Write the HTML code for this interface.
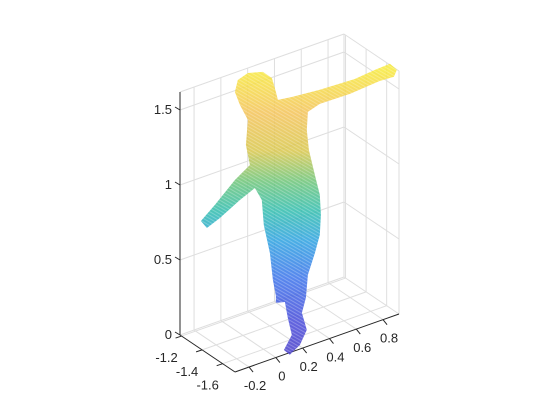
<!DOCTYPE html>
<html><head><meta charset="utf-8"><style>
html,body{margin:0;padding:0;background:#fff;}
svg{display:block;font-family:"Liberation Sans",Arial,sans-serif;}
</style></head><body>
<svg id="chart" width="560" height="420" viewBox="0 0 560 420" xmlns="http://www.w3.org/2000/svg">
<defs>
<linearGradient id="parula" gradientUnits="userSpaceOnUse" x1="0" x2="0"></linearGradient>
<pattern id="dots" width="3" height="3" patternUnits="userSpaceOnUse" patternTransform="rotate(30)">
<rect width="3" height="1" fill="#fff" opacity="0.25"/>
</pattern>
</defs>
<g id="grid"></g>
<g id="axes"></g>
<g id="cloud"></g>
</svg>
<script>
const xTicks = [-0.2, 0, 0.2, 0.4, 0.6, 0.8];
const yTicks = [-1.6, -1.4, -1.2];
const zTicks = [0, 0.5, 1, 1.5];
const xTickLabels = ["-0.2", "0", "0.2", "0.4", "0.6", "0.8"];
const yTickLabels = ["-1.6", "-1.4", "-1.2"];
const zTickLabels = ["0", "0.5", "1", "1.5"];
const xLim = [-0.305, 0.919];
const yLim = [-1.72, -1.185];
const zLim = [0, 1.62];
// silhouette of point cloud (data coords, in plane y = personY)
const personY = -1.444;
const outlineX = [-0.094,-0.072,0.003,0.115,0.182,0.212,0.227,0.331,0.540,0.801,0.951,1.063,1.115,1.093,0.988,0.764,0.540,0.451,0.443,0.458,0.503,0.540,0.548,0.540,0.503,0.451,0.436,0.406,0.443,0.391,0.316,0.272,0.331,0.301,0.279,0.212,0.212,0.190,0.167,0.122,0.107,0.055,-0.057,-0.206,-0.303,-0.348,-0.243,-0.094,0.018,-0.012,0.003,-0.057];
const outlineZ = [1.673,1.746,1.769,1.741,1.679,1.577,1.519,1.505,1.487,1.477,1.490,1.495,1.439,1.399,1.405,1.389,1.393,1.368,1.250,1.112,0.930,0.787,0.651,0.520,0.411,0.281,0.133,0.042,-0.083,-0.167,-0.209,-0.163,-0.081,0.042,0.155,0.170,0.217,0.330,0.517,0.718,0.889,0.986,0.941,0.868,0.832,0.893,0.967,1.086,1.151,1.294,1.456,1.575];
const colorZ = [1.8, 1.5, 1.25, 1.05, 0.85, 0.65, 0.4, 0.1, -0.2];
const colorVals = ["#f7ea3a","#f3c257","#d8c64a","#6cc476","#2fbcad","#2aa0e0","#3a72ea","#4648d8","#4b3bc4"];

const NS = "http://www.w3.org/2000/svg";
function P(x, y, z) {
  const u = (x - xLim[0]) / (xLim[1] - xLim[0]);
  const t = (y - yLim[0]) / (yLim[1] - yLim[0]);
  return [235 + 164 * u - 55 * t, 372 - 58 * u - 37 * t - 150 * z];
}
function line(g, a, b, stroke, w, name) {
  const l = document.createElementNS(NS, "line");
  l.setAttribute("x1", a[0]); l.setAttribute("y1", a[1]);
  l.setAttribute("x2", b[0]); l.setAttribute("y2", b[1]);
  l.setAttribute("stroke", stroke); l.setAttribute("stroke-width", w);
  
  
  g.appendChild(l);
}
function text(g, x, y, s, anchor, name) {
  const t = document.createElementNS(NS, "text");
  t.setAttribute("x", x); t.setAttribute("y", y);
  t.setAttribute("font-size", "13"); t.setAttribute("fill", "#262626");
  t.setAttribute("text-anchor", anchor);
  t.textContent = s;
  
  
  g.appendChild(t);
}
const grid = document.getElementById("grid");
const gc = "#dedede";
const [x0, x1] = xLim, [y0, y1] = yLim, zt = zLim[1];
xTicks.forEach(x => {
  line(grid, P(x, y0, 0), P(x, y1, 0), gc, 1, "floor-grid-x");
  line(grid, P(x, y1, 0), P(x, y1, zt), gc, 1, "wall-grid-x");
});
yTicks.forEach(y => {
  line(grid, P(x0, y, 0), P(x1, y, 0), gc, 1, "floor-grid-y");
  line(grid, P(x1, y, 0), P(x1, y, zt), gc, 1, "wall-grid-y");
});
zTicks.forEach(z => {
  line(grid, P(x0, y1, z), P(x1, y1, z), gc, 1, "back-wall-grid-z");
  line(grid, P(x1, y0, z), P(x1, y1, z), gc, 1, "side-wall-grid-z");
});
line(grid, P(x1, y0, 0), P(x1, y0, zt), gc, 1, "box-edge");
line(grid, P(x1, y1, 0), P(x1, y1, zt), gc, 1, "box-edge");
line(grid, P(x0, y1, zt), P(x1, y1, zt), gc, 1, "box-edge");
line(grid, P(x1, y0, zt), P(x1, y1, zt), gc, 1, "box-edge");

const ax = document.getElementById("axes");
const ac = "#262626";
line(ax, P(x0, y1, 0), P(x0, y1, zt), ac, 1, "z-axis-line");
line(ax, P(x0, y0, 0), P(x0, y1, 0), ac, 1, "y-axis-line");
line(ax, P(x0, y0, 0), P(x1, y0, 0), ac, 1, "x-axis-line");
zTicks.forEach((z, i) => {
  const p = P(x0, y1, z);
  line(ax, p, [p[0] - 5, p[1] - 3], ac, 1, "z-tick");
  text(ax, p[0] - 8, p[1] + 4, zTickLabels[i], "end", "z-tick-label");
});
yTicks.forEach((y, i) => {
  const p = P(x0, y, 0);
  line(ax, p, [p[0] - 6, p[1] + 2], ac, 1, "y-tick");
  text(ax, p[0] - 15, p[1] + 26, yTickLabels[i], "middle", "y-tick-label");
});
xTicks.forEach((x, i) => {
  const p = P(x, y0, 0);
  line(ax, p, [p[0] + 4, p[1] + 5], ac, 1, "x-tick");
  text(ax, p[0] + 6, p[1] + 23, xTickLabels[i], "middle", "x-tick-label");
});

const grad = document.getElementById("parula");
const gTop = P(0, personY, colorZ[0])[1], gBot = P(0, personY, colorZ[colorZ.length - 1])[1];
grad.setAttribute("y1", gTop); grad.setAttribute("y2", gBot);
colorZ.forEach((z, i) => {
  const s = document.createElementNS(NS, "stop");
  s.setAttribute("offset", (P(0, personY, z)[1] - gTop) / (gBot - gTop));
  s.setAttribute("stop-color", colorVals[i]);
  grad.appendChild(s);
});
const cloud = document.getElementById("cloud");
const d = outlineX.map((x, i) => {
  const p = P(x, personY, outlineZ[i]);
  return (i ? "L" : "M") + p[0].toFixed(1) + "," + p[1].toFixed(1);
}).join("") + "Z";
const body = document.createElementNS(NS, "path");
body.setAttribute("d", d);
body.setAttribute("fill", "url(#parula)");
body.setAttribute("fill-opacity", "0.85");


cloud.appendChild(body);
const tex = document.createElementNS(NS, "path");
tex.setAttribute("d", d);
tex.setAttribute("fill", "url(#dots)");


cloud.appendChild(tex);
</script>
</body></html>
